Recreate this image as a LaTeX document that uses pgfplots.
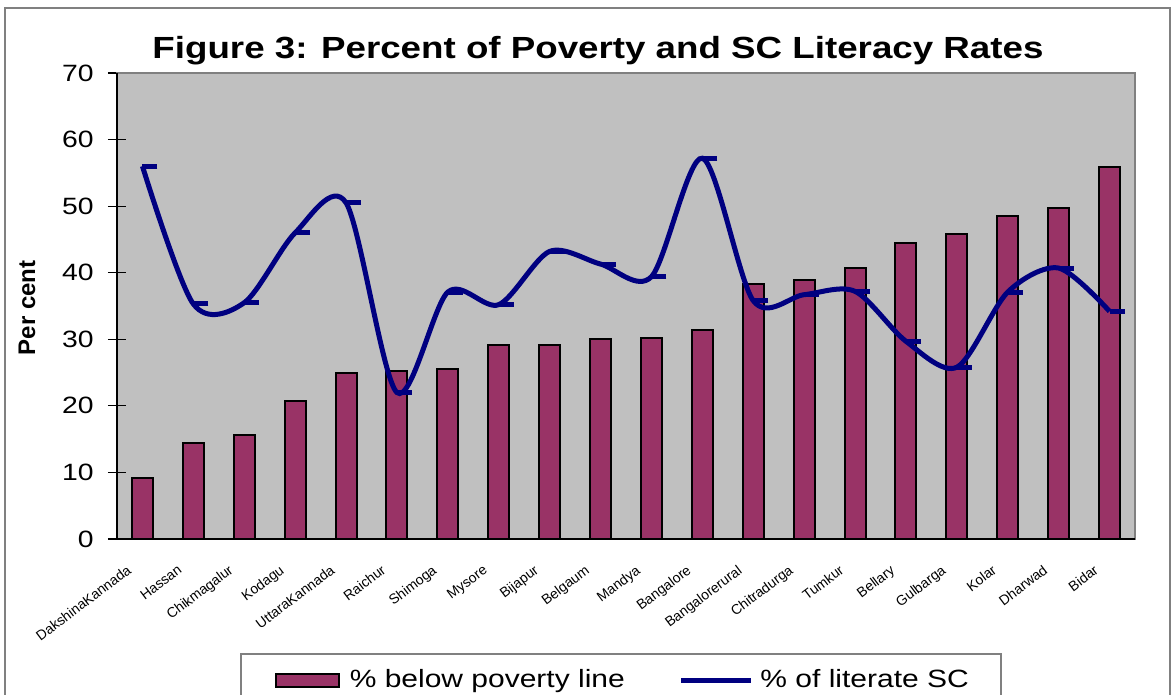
\documentclass[border=0pt]{standalone}
\usepackage{fontspec}
\setmainfont{Liberation Sans}[FakeStretch=1.2]
\newfontfamily\plainfont{Liberation Sans}
\usepackage{pgfplots}
\pgfplotsset{compat=1.18}
\definecolor{barc}{HTML}{993366}
\definecolor{linec}{HTML}{000080}
\definecolor{bgc}{HTML}{C0C0C0}
\begin{document}
\begin{tikzpicture}
\useasboundingbox (-58.5pt,-78pt) rectangle (528.5pt,269.5pt);
\begin{axis}[
  at={(0,0)}, anchor=south west,
  scale only axis, width=509pt, height=233pt,
  xmin=-0.5, xmax=19.5, ymin=0, ymax=70,
  ytick={0,10,...,70},
  xtick={0,...,19},
  xticklabels={DakshinaKannada,Hassan,Chikmagalur,Kodagu,UttaraKannada,Raichur,Shimoga,Mysore,Bijapur,Belgaum,Mandya,Bangalore,Bangalorerural,Chitradurga,Tumkur,Bellary,Gulbarga,Kolar,Dharwad,Bidar},
  minor xtick={-0.5,0.5,...,19.5},
  xtick pos=bottom, ytick pos=left,
  xtick style={draw=none},
  tick align=center,
  major tick length=9pt,
  minor tick length=3pt,
  minor x tick style={black, line width=0.6pt, yshift=-1.5pt},
  ytick style={black, line width=0.6pt},
  axis line style={draw=gray, line width=1pt},
  axis background/.style={fill=bgc},
  /pgf/number format/assume math mode=true,
  yticklabel style={font=\fontsize{11.8}{14}\selectfont, anchor=east, inner sep=0pt, xshift=-7pt},
  xticklabel style={font=\plainfont\fontsize{7}{8}\selectfont, xshift=-8.2pt, yshift=-7.9pt, rotate=37, anchor=north east, inner sep=0pt},
  ylabel={Per cent},
  ylabel style={at={(axis description cs:-0.0884,0.496)}, anchor=center, font=\plainfont\bfseries\fontsize{12}{14}\selectfont},
  title={Figure 3: Percent of Poverty and SC Literacy Rates},
  title style={at={(axis description cs:0.4725,1.0043)}, anchor=base, font=\bfseries\fontsize{15.3}{18}\selectfont},
  legend columns=2,
  legend style={at={(axis description cs:0.1208,-0.2446)}, anchor=north west, draw=gray, line width=0.8pt,
    font=\fontsize{12.5}{15}\selectfont, inner xsep=14pt, inner ysep=6pt,
    /tikz/every even column/.append style={column sep=25pt}},
  after end axis/.code={\draw[black, line width=1pt] (rel axis cs:0,1) -- (rel axis cs:0,0) -- (rel axis cs:1,0);},
]
\addplot[ybar, bar width=10.5pt, fill=barc, draw=black, line width=1pt,
  legend image code/.code={\path[draw=none, fill=none] (0pt,0pt) rectangle (38.5pt,0.1pt); \draw[fill=barc, draw=black, line width=1pt] (3.5pt,-3.25pt) rectangle (35pt,3.25pt);}]
coordinates {(0,9.1) (1,14.4) (2,15.6) (3,20.7) (4,24.9) (5,25.3) (6,25.5) (7,29.1) (8,29.1) (9,30.0)
 (10,30.2) (11,31.4) (12,38.3) (13,38.9) (14,40.7) (15,44.5) (16,45.8) (17,48.5) (18,49.7) (19,55.9)};
\addlegendentry{\% below poverty line}
\addplot[linec, line width=2.5pt, smooth, mark=-, mark size=3.75pt, mark options={xshift=3.75pt, solid},
  legend image code/.code={\path[draw=none, fill=none] (0pt,0pt) rectangle (37.5pt,0.1pt); \draw[linec, line width=2.5pt] (0pt,0pt) -- (35pt,0pt);}]
coordinates {(0,56.0) (1,35.3) (2,35.5) (3,46.0) (4,50.5) (5,22.0) (6,37.1) (7,35.2) (8,43.2) (9,41.3)
 (10,39.4) (11,57.2) (12,35.8) (13,36.7) (14,37.2) (15,29.7) (16,25.8) (17,37.1) (18,40.7) (19,34.2)};
\addlegendentry{\% of literate SC\hspace{8pt}}
\end{axis}
\draw[gray, line width=1pt] (-56pt,-82pt) rectangle (526.5pt,265.5pt);
\end{tikzpicture}
\end{document}
